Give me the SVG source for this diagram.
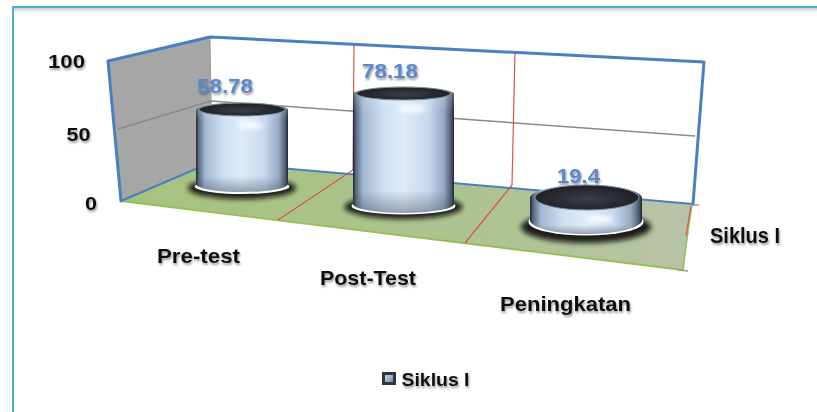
<svg xmlns="http://www.w3.org/2000/svg" width="817" height="412" viewBox="0 0 817 412">
  <style>
    .lbl { font-family: "Liberation Sans", Arial, sans-serif; font-weight: bold; fill: #111; }
    .val { font-family: "Liberation Sans", Arial, sans-serif; font-weight: bold; fill: #5a88cc; }
    .edge { fill: none; stroke: #4a7fc1; stroke-width: 3; stroke-linejoin: round; stroke-linecap: round; }
    .edge-thin { fill: none; stroke: #4a7fc1; stroke-width: 2; }
    .grid { fill: none; stroke: #8a8a8a; stroke-width: 1.5; }
    .divider { fill: none; stroke: #d9534f; stroke-width: 1.2; }
    .body { fill: url(#bodyGrad); }
    .bodyShade { fill: url(#bodyShade); }
    .top { fill: url(#topGrad); stroke: #7d8ea3; stroke-width: 1; }
    .halo { fill: #111; opacity: 0.9; filter: url(#blur3); }
    .ring { fill: #ffffff; filter: url(#blur1); }
    .hi { fill: #ffffff; opacity: 0.9; filter: url(#glow); }
  </style>
  <defs>
    <linearGradient id="bodyGrad" x1="0" y1="0" x2="1" y2="0">
      <stop offset="0" stop-color="#1e2630"/>
      <stop offset="0.03" stop-color="#5a6b82"/>
      <stop offset="0.1" stop-color="#a3b8d2"/>
      <stop offset="0.3" stop-color="#d0e0f3"/>
      <stop offset="0.5" stop-color="#deebf9"/>
      <stop offset="0.75" stop-color="#c6d8ee"/>
      <stop offset="0.9" stop-color="#95a9c4"/>
      <stop offset="0.97" stop-color="#4e5d72"/>
      <stop offset="1" stop-color="#1e2630"/>
    </linearGradient>
    <linearGradient id="bodyShade" x1="0" y1="0" x2="0" y2="1">
      <stop offset="0" stop-color="#ffffff" stop-opacity="0.3"/>
      <stop offset="0.2" stop-color="#ffffff" stop-opacity="0"/>
      <stop offset="0.82" stop-color="#3c4a5c" stop-opacity="0"/>
      <stop offset="1" stop-color="#3c4a5c" stop-opacity="0.45"/>
    </linearGradient>
    <radialGradient id="topGrad" cx="0.5" cy="0.55" r="0.5">
      <stop offset="0" stop-color="#3a3f46"/>
      <stop offset="1" stop-color="#1f2227"/>
    </radialGradient>
    <linearGradient id="floorGrad" x1="0" y1="0" x2="1" y2="0">
      <stop offset="0" stop-color="#a6c27f"/>
      <stop offset="0.6" stop-color="#adc38f"/>
      <stop offset="1" stop-color="#b9c3a7"/>
    </linearGradient>
    <linearGradient id="frameShadow" x1="0" y1="0" x2="0" y2="1">
      <stop offset="0" stop-color="#c8c8c8"/>
      <stop offset="1" stop-color="#ffffff" stop-opacity="0"/>
    </linearGradient>
    <linearGradient id="legendGrad" x1="0" y1="0" x2="1" y2="1">
      <stop offset="0" stop-color="#c9d6e6"/>
      <stop offset="1" stop-color="#7b8ca3"/>
    </linearGradient>
    <filter id="blur3" x="-30%" y="-80%" width="160%" height="260%">
      <feGaussianBlur stdDeviation="2.8"/>
    </filter>
    <filter id="blur1" x="-20%" y="-50%" width="140%" height="200%">
      <feGaussianBlur stdDeviation="0.6"/>
    </filter>
    <filter id="glow" x="-50%" y="-100%" width="200%" height="300%">
      <feGaussianBlur stdDeviation="2.5"/>
    </filter>
    <filter id="txtShadow" x="-10%" y="-30%" width="120%" height="170%">
      <feDropShadow dx="1" dy="2" stdDeviation="1.2" flood-color="#444" flood-opacity="0.55"/>
    </filter>
  </defs>

  <rect width="817" height="412" fill="#ffffff"/>

  <!-- chart area border -->
  <g id="frame">
    <rect x="14" y="8" width="803" height="7" fill="url(#frameShadow)"/>
    <rect x="13" y="7" width="900" height="500" fill="none" stroke="#4aaed3" stroke-width="2"/>
  </g>

  <!-- side wall, back wall and floor of the 3-D plot -->
  <g id="walls">
    <polygon points="108,61 210,37 212,162 121,201" fill="#a6a6a6"/>
    <polygon points="210,37 704,62 693,204 212,162" fill="#ffffff"/>
    <line x1="210" y1="37" x2="212" y2="162" stroke="#9a9a9a" stroke-width="1"/>
  </g>

  <g id="floor">
    <polygon points="121,201 212,162 693,204 683,270" fill="url(#floorGrad)"/>
    <line x1="121" y1="201" x2="683" y2="270" stroke="#95bf55" stroke-width="1.8"/>
    <line x1="691" y1="206" x2="683" y2="270" stroke="#95bf55" stroke-width="1.5"/>
    <line x1="691" y1="206" x2="686" y2="236" stroke="#d9534f" stroke-width="1.2"/>
    <line x1="692" y1="205" x2="699" y2="205" stroke="#999" stroke-width="1.5"/>
    <line x1="678" y1="270" x2="688" y2="271" stroke="#999" stroke-width="1.5"/>
  </g>

  <g id="gridlines">
    <polyline class="grid" points="118,129 211,101 695,136"/>
  </g>

  <g id="dividers">
    <polyline class="divider" points="354,43 353,170 278,220"/>
    <polyline class="divider" points="515,52 512,185 465,243"/>
  </g>

  <g id="plot-edges">
    <polyline class="edge" points="121,201 108,61 210,37 704,62 693,204"/>
    <polyline class="edge-thin" points="121,201 212,162 693,204"/>
  </g>

  <!-- value axis -->
  <g id="value-axis" filter="url(#txtShadow)">
    <text class="lbl" x="48" y="68" font-size="19" textLength="37" lengthAdjust="spacingAndGlyphs">100</text>
    <text class="lbl" x="66.5" y="140.5" font-size="19" textLength="24" lengthAdjust="spacingAndGlyphs">50</text>
    <text class="lbl" x="85" y="210" font-size="19" textLength="12" lengthAdjust="spacingAndGlyphs">0</text>
  </g>

  <!-- Pre-test bar -->
  <g id="bar-pretest">
    <ellipse class="halo" cx="242" cy="188" rx="54" ry="11"/>
    <ellipse class="ring" cx="242" cy="186.5" rx="47.5" ry="7.5"/>
    <path class="body" d="M196,110 L196,184 A46,8 0 0 0 288,184 L288,110 A46,7 0 0 0 196,110 Z"/>
    <path class="bodyShade" d="M196,110 L196,184 A46,8 0 0 0 288,184 L288,110 A46,7 0 0 0 196,110 Z"/>
    <ellipse class="top" cx="242" cy="109.5" rx="43" ry="6.5"/>
    <ellipse class="hi" cx="250" cy="125" rx="13" ry="3.5"/>
    <text class="val" x="197" y="93" font-size="21" textLength="56" lengthAdjust="spacingAndGlyphs" filter="url(#txtShadow)">58.78</text>
  </g>

  <!-- Post-Test bar -->
  <g id="bar-posttest">
    <ellipse class="halo" cx="403.5" cy="207" rx="59" ry="12"/>
    <ellipse class="ring" cx="403.5" cy="206" rx="52" ry="8.5"/>
    <path class="body" d="M353,94 L353,204 A50.5,9 0 0 0 454,204 L454,94 A50.5,7 0 0 0 353,94 Z"/>
    <path class="bodyShade" d="M353,94 L353,204 A50.5,9 0 0 0 454,204 L454,94 A50.5,7 0 0 0 353,94 Z"/>
    <ellipse class="top" cx="403.5" cy="93.5" rx="47" ry="6.5"/>
    <ellipse class="hi" cx="412" cy="109" rx="14" ry="3.5"/>
    <text class="val" x="362" y="78" font-size="21" textLength="56" lengthAdjust="spacingAndGlyphs" filter="url(#txtShadow)">78.18</text>
  </g>

  <!-- Peningkatan bar -->
  <g id="bar-peningkatan">
    <ellipse class="halo" cx="586" cy="227" rx="65" ry="16"/>
    <ellipse class="ring" cx="586" cy="222" rx="57.5" ry="13.5"/>
    <path class="body" d="M530,198 L530,220 A56,14 0 0 0 642,220 L642,198 A56,13 0 0 0 530,198 Z"/>
    <path class="bodyShade" d="M530,198 L530,220 A56,14 0 0 0 642,220 L642,198 A56,13 0 0 0 530,198 Z"/>
    <ellipse class="top" cx="587" cy="197.5" rx="52" ry="12.5"/>
    <ellipse class="hi" cx="600" cy="219" rx="14" ry="3.5"/>
    <text class="val" x="557" y="183" font-size="21" textLength="43" lengthAdjust="spacingAndGlyphs" filter="url(#txtShadow)">19.4</text>
  </g>

  <!-- category and series axis labels -->
  <g id="category-axis" filter="url(#txtShadow)">
    <text class="lbl" x="157" y="263" font-size="21" textLength="83" lengthAdjust="spacingAndGlyphs">Pre-test</text>
    <text class="lbl" x="320" y="285" font-size="21" textLength="96" lengthAdjust="spacingAndGlyphs">Post-Test</text>
    <text class="lbl" x="500" y="311" font-size="21" textLength="131" lengthAdjust="spacingAndGlyphs">Peningkatan</text>
    <text class="lbl" x="710" y="243" font-size="22" textLength="70" lengthAdjust="spacingAndGlyphs">Siklus I</text>
  </g>

  <!-- legend -->
  <g id="legend">
    <rect x="382" y="372" width="14" height="13" fill="#2c3644"/>
    <rect x="385" y="375" width="8" height="7" fill="url(#legendGrad)"/>
    <text class="lbl" x="401.5" y="386" font-size="18.5" textLength="68" lengthAdjust="spacingAndGlyphs" filter="url(#txtShadow)">Siklus I</text>
  </g>
</svg>
